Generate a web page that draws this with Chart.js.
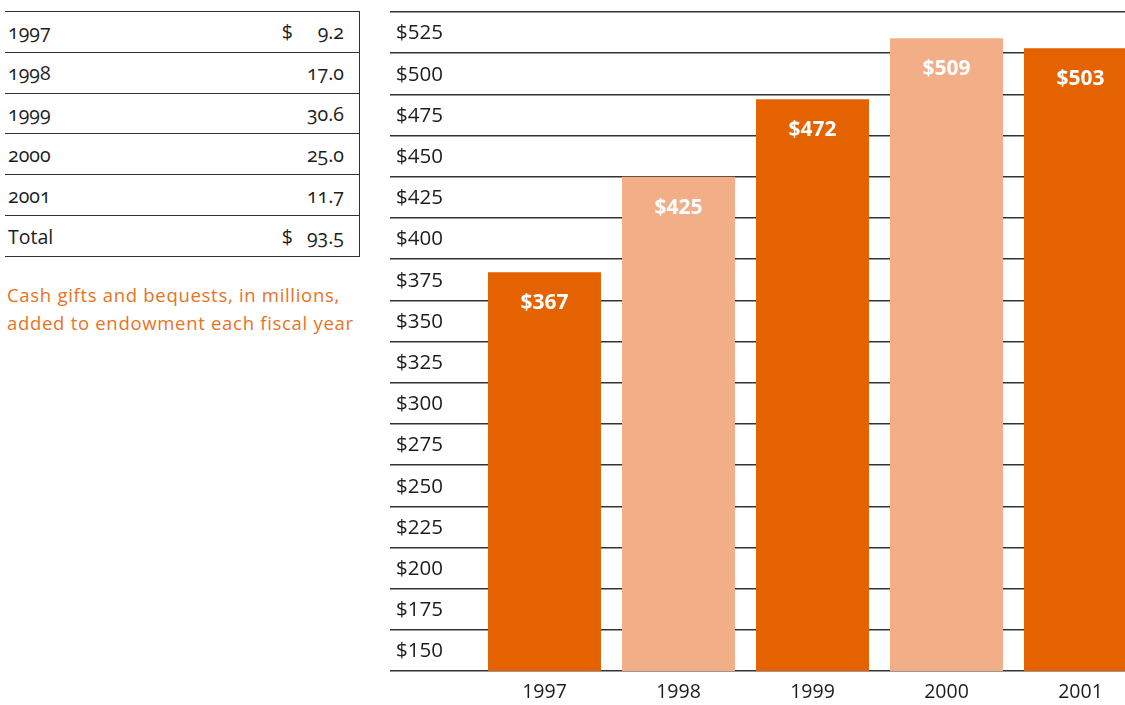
<!DOCTYPE html>
<html>
<head>
<meta charset="utf-8">
<script src="https://cdn.jsdelivr.net/npm/chart.js@4/dist/chart.umd.min.js"></script>
<style>
  html, body { margin: 0; padding: 0; background: #fff; }
  body { width: 1125px; height: 705px; overflow: hidden; position: relative; font-family: "Open Sans", "Noto Sans", sans-serif; }
  #gifts { position: absolute; left: 5px; top: 11px; width: 355px; height: 246px; border-collapse: collapse; color: #1c1c1c; font-size: 19.5px; font-variant-numeric: oldstyle-nums; }
  #gifts td { border-top: 1.5px solid #333; border-bottom: 1.5px solid #333; padding: 0; }
  #gifts td.yr { padding-left: 3px; }
  #gifts td.cur { width: 25px; text-align: right; }
  #gifts td.val { width: 51px; text-align: right; padding-right: 15px; border-right: 1.5px solid #333; }
  #caption { position: absolute; left: 7px; top: 281px; color: #e8731e; font-size: 18.5px; line-height: 28px; letter-spacing: 0.7px; }
  #wrap { position: absolute; left: 390px; top: 0; width: 760px; height: 705px; }
</style>
</head>
<body>
<table id="gifts"></table>
<div id="caption">Cash gifts and bequests, in millions,<br>added to endowment each fiscal year</div>
<div id="wrap"><canvas id="chart" width="760" height="705"></canvas></div>
<script>
document.addEventListener("DOMContentLoaded", function () {
    // left table
    const tableRows = ["1997", "1998", "1999", "2000", "2001", "Total"];
    const tableGifts = ["9.2", "17.0", "30.6", "25.0", "11.7", "93.5"];
    const tableCurrency = ["$", "", "", "", "", "$"];

    // chart data
    const years = ["1997", "1998", "1999", "2000", "2001"];
    const endowment = [367, 425, 472, 509, 503];
    const barColors = ["#e46200", "#f2ae87", "#e46200", "#f2ae87", "#e46200"];
    const yTicks = [525, 500, 475, 450, 425, 400, 375, 350, 325, 300, 275, 250, 225, 200, 175, 150];

    let table = document.getElementById("gifts");
    tableRows.forEach(function (r, i) {
        let tr = document.createElement("tr");
        tr.innerHTML = '<td class="yr">' + r + '</td><td class="cur">' + tableCurrency[i] +
            '</td><td class="val">' + tableGifts[i] + '</td>';
        table.appendChild(tr);
    });

    const bandLabels = {
        id: "bandLabels",
        afterDraw(chart) {
            let ctx = chart.ctx;
            let y = chart.scales.y;
            ctx.save();
            ctx.fillStyle = "#1c1c1c";
            ctx.font = '20.5px "Open Sans"';
            ctx.textAlign = "left";
            ctx.textBaseline = "middle";
            yTicks.forEach(function (v) {
                ctx.fillText("$" + v, 6, y.getPixelForValue(v - 12.5) + 1);
            });
            ctx.restore();
        }
    };

    const barLabels = {
        id: "barLabels",
        afterDatasetsDraw(chart) {
            let ctx = chart.ctx;
            let meta = chart.getDatasetMeta(0);
            ctx.save();
            ctx.fillStyle = "#ffffff";
            ctx.font = 'bold 21px "Open Sans"';
            ctx.textAlign = "center";
            ctx.textBaseline = "middle";
            meta.data.forEach(function (bar, i) {
                ctx.fillText("$" + endowment[i], bar.x, bar.y + 31);
            });
            ctx.restore();
        }
    };

    let ctx = document.getElementById("chart").getContext("2d");
    new Chart(ctx, {
        type: "bar",
        data: {
            labels: years,
            datasets: [{
                data: endowment,
                backgroundColor: barColors,
                barPercentage: 0.843,
                categoryPercentage: 1
            }]
        },
        options: {
            responsive: false,
            animation: false,
            devicePixelRatio: 1,
            layout: { padding: { top: 12, right: 2.5, left: 0, bottom: 0 } },
            plugins: { legend: { display: false }, tooltip: { enabled: false } },
            scales: {
                x: {
                    grid: { display: false, drawTicks: false },
                    border: { display: false },
                    ticks: { color: "#1c1c1c", font: { family: "Open Sans", size: 19.5 }, padding: 10 },
                    afterFit: function (s) { s.height = 34; }
                },
                y: {
                    min: 125,
                    max: 525,
                    ticks: { stepSize: 25, display: false },
                    grid: { color: "#333333", lineWidth: 1.5, tickLength: 87.5, drawTicks: true },
                    border: { display: false },
                    afterFit: function (s) { s.width = 87.5; }
                }
            }
        },
        plugins: [bandLabels, barLabels]
    });
});
</script>
</body>
</html>
